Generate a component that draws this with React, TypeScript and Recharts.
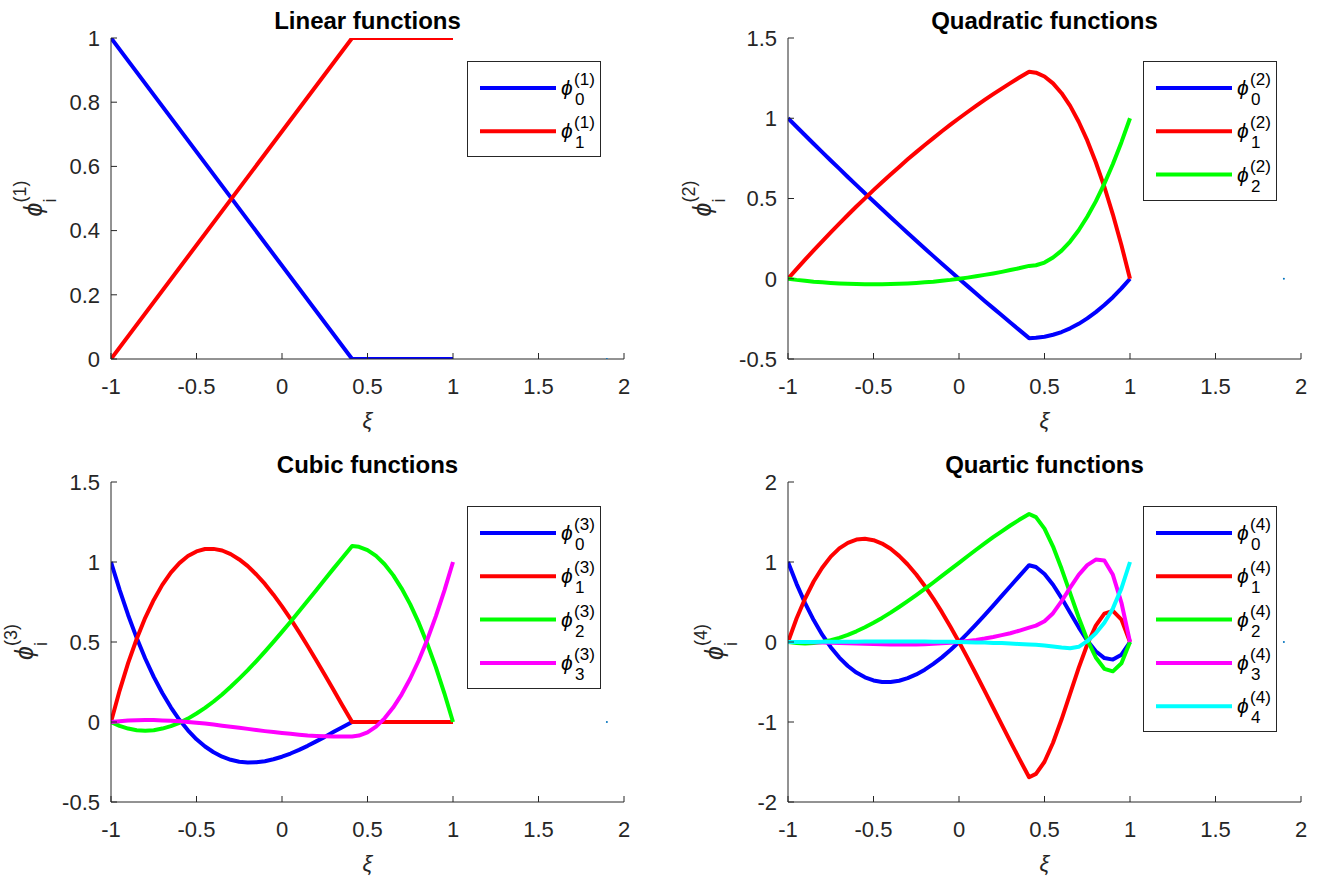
import React from 'react';
import { LineChart, Line, XAxis, YAxis, Legend } from 'recharts';

const FONT = '"Liberation Sans", Arial, Helvetica, sans-serif';
const AXIS_COLOR = '#262626';
const PANEL_W = 659;
const PANEL_H = 442;

const XI_LINEAR = [-1, 0.41, 1];
const XI = [
  -1, -0.95, -0.9, -0.85, -0.8, -0.75, -0.7, -0.65, -0.6, -0.55, -0.5, -0.45, -0.4, -0.35, -0.3, -0.25, -0.2,
  -0.15, -0.1, -0.05, 0, 0.05, 0.1, 0.15, 0.2, 0.25, 0.3, 0.35, 0.41, 0.45, 0.5, 0.55, 0.6, 0.65, 0.7, 0.75,
  0.8, 0.85, 0.9, 0.95, 1,
];

const LIN_PHI0 = [1, 0, 0];
const LIN_PHI1 = [0, 1, 1];

const QUAD_PHI0 = [
  1, 0.947, 0.894, 0.841, 0.789, 0.737, 0.686, 0.634, 0.583, 0.533, 0.483, 0.433, 0.383, 0.334, 0.285, 0.237,
  0.189, 0.141, 0.094, 0.047, 0, -0.046, -0.092, -0.138, -0.183, -0.228, -0.273, -0.317, -0.37,
  -0.368, -0.361, -0.349, -0.332, -0.309, -0.281, -0.247, -0.208, -0.164, -0.115, -0.06, 0,
];
const QUAD_PHI1 = [
  0, 0.06, 0.119, 0.177, 0.233, 0.289, 0.344, 0.397, 0.45, 0.501, 0.552, 0.601, 0.65, 0.697, 0.744, 0.789,
  0.833, 0.876, 0.919, 0.96, 1, 1.039, 1.077, 1.114, 1.15, 1.185, 1.219, 1.252, 1.29,
  1.284, 1.26, 1.217, 1.156, 1.077, 0.978, 0.862, 0.726, 0.573, 0.4, 0.209, 0,
];
const QUAD_PHI2 = [
  0, -0.007, -0.012, -0.018, -0.022, -0.026, -0.029, -0.031, -0.033, -0.034, -0.035, -0.034, -0.033, -0.031,
  -0.029, -0.026, -0.022, -0.018, -0.012, -0.007, 0, 0.007, 0.015, 0.024, 0.033, 0.043, 0.054, 0.065, 0.08,
  0.084, 0.101, 0.132, 0.175, 0.232, 0.302, 0.386, 0.482, 0.592, 0.715, 0.851, 1,
];

const CUBIC_PHI0 = [
  1, 0.827, 0.669, 0.526, 0.397, 0.282, 0.181, 0.092, 0.014, -0.052, -0.108, -0.153, -0.189, -0.217, -0.236,
  -0.248, -0.253, -0.252, -0.245, -0.233, -0.217, -0.197, -0.174, -0.149, -0.121, -0.093, -0.063, -0.034, 0,
  0, 0, 0, 0, 0, 0, 0, 0, 0, 0, 0, 0,
];
const CUBIC_PHI1 = [
  0, 0.195, 0.368, 0.519, 0.651, 0.763, 0.857, 0.934, 0.993, 1.037, 1.066, 1.081, 1.082, 1.072, 1.049, 1.016,
  0.974, 0.922, 0.863, 0.796, 0.723, 0.645, 0.562, 0.475, 0.386, 0.295, 0.203, 0.11, 0,
  0, 0, 0, 0, 0, 0, 0, 0, 0, 0, 0, 0,
];
const CUBIC_PHI2 = [
  0, -0.024, -0.041, -0.051, -0.054, -0.051, -0.041, -0.026, -0.005, 0.021, 0.053, 0.088, 0.128, 0.172, 0.22,
  0.271, 0.324, 0.381, 0.44, 0.501, 0.563, 0.627, 0.692, 0.758, 0.824, 0.891, 0.957, 1.022, 1.1,
  1.095, 1.074, 1.038, 0.986, 0.918, 0.834, 0.735, 0.619, 0.488, 0.341, 0.178, 0,
];
const CUBIC_PHI3 = [
  0, 0.005, 0.009, 0.011, 0.012, 0.012, 0.01, 0.008, 0.004, 0, -0.005, -0.01, -0.016, -0.023, -0.029, -0.036,
  -0.043, -0.05, -0.057, -0.063, -0.069, -0.074, -0.079, -0.084, -0.087, -0.089, -0.091, -0.091, -0.09,
  -0.085, -0.065, -0.029, 0.023, 0.09, 0.173, 0.272, 0.386, 0.516, 0.662, 0.823, 1,
];

const QUART_PHI0 = [
  1, 0.727, 0.486, 0.274, 0.091, -0.065, -0.195, -0.3, -0.382, -0.442, -0.481, -0.5, -0.5, -0.484, -0.452,
  -0.405, -0.346, -0.274, -0.192, -0.1, 0, 0.107, 0.219, 0.335, 0.455, 0.576, 0.697, 0.818, 0.96,
  0.937, 0.85, 0.716, 0.549, 0.366, 0.183, 0.018, -0.116, -0.201, -0.22, -0.159, 0,
];
const QUART_PHI1 = [
  0, 0.293, 0.544, 0.756, 0.929, 1.067, 1.17, 1.24, 1.28, 1.29, 1.273, 1.231, 1.165, 1.077, 0.969, 0.843, 0.7,
  0.543, 0.373, 0.191, 0, -0.199, -0.403, -0.611, -0.822, -1.033, -1.242, -1.449, -1.69,
  -1.649, -1.497, -1.26, -0.966, -0.644, -0.323, -0.031, 0.204, 0.354, 0.388, 0.28, 0,
];
const QUART_PHI2 = [
  0, -0.014, -0.019, -0.014, 0, 0.022, 0.052, 0.09, 0.134, 0.184, 0.24, 0.301, 0.367, 0.437, 0.51, 0.586, 0.664,
  0.744, 0.826, 0.908, 0.99, 1.072, 1.153, 1.232, 1.31, 1.384, 1.456, 1.524, 1.6,
  1.561, 1.417, 1.193, 0.915, 0.61, 0.306, 0.029, -0.193, -0.335, -0.367, -0.265, 0,
];
const QUART_PHI3 = [
  0, 0, -0.001, -0.002, -0.005, -0.008, -0.011, -0.015, -0.018, -0.022, -0.025, -0.028, -0.03, -0.031, -0.031,
  -0.03, -0.027, -0.023, -0.017, -0.01, 0, 0.012, 0.026, 0.043, 0.063, 0.086, 0.11, 0.14, 0.18,
  0.205, 0.26, 0.36, 0.51, 0.68, 0.84, 0.96, 1.03, 1.02, 0.84, 0.49, 0,
];
const QUART_PHI4 = [
  0, 0, 0.001, 0.001, 0.002, 0.002, 0.003, 0.003, 0.004, 0.005, 0.005, 0.005, 0.006, 0.006, 0.006, 0.005, 0.005,
  0.004, 0.003, 0.002, 0, -0.002, -0.005, -0.007, -0.011, -0.014, -0.019, -0.024, -0.03,
  -0.035, -0.043, -0.055, -0.068, -0.078, -0.06, 0.01, 0.11, 0.24, 0.42, 0.67, 1,
];

// the lone default-coloured point every subplot has at (1.9, 0)
const STRAY_X = [1.9];
const STRAY_Y = [0];

const X_TICKS = [-1, -0.5, 0, 0.5, 1, 1.5, 2];
const LIN_Y_TICKS = [0, 0.2, 0.4, 0.6, 0.8, 1];
const QUAD_Y_TICKS = [-0.5, 0, 0.5, 1, 1.5];
const CUBIC_Y_TICKS = [-0.5, 0, 0.5, 1, 1.5];
const QUART_Y_TICKS = [-2, -1, 0, 1, 2];

const COLORS = ['#0000ff', '#ff0000', '#00ff00', '#ff00ff', '#00ffff'];

const toPoints = (xs: number[], ys: number[]) => xs.map((x, i) => ({ x, y: ys[i] }));

const XiLabel = (props: any) => {
  const vb = props.viewBox || {};
  return (
    <text
      x={vb.x + vb.width / 2}
      y={vb.y + 69}
      textAnchor="middle"
      fontFamily={FONT}
      fontSize={22}
      fontStyle="italic"
      fill={AXIS_COLOR}
    >
      ξ
    </text>
  );
};

const PhiLabel = (props: any) => {
  const vb = props.viewBox || {};
  const cx = vb.x + vb.width + props.shift;
  const cy = vb.y + vb.height / 2;
  return (
    <text
      x={cx}
      y={cy}
      transform={`rotate(-90 ${cx} ${cy})`}
      textAnchor="middle"
      fontFamily={FONT}
      fill={AXIS_COLOR}
    >
      <tspan fontSize={25} fontStyle="italic">ϕ</tspan>
      <tspan fontSize={18} dy={-16}>({props.order})</tspan>
      <tspan fontSize={18} dx={-22} dy={30}>i</tspan>
    </text>
  );
};

const PhiLegend = ({ payload, order, width, height }: any) => {
  const items = (payload || []).filter((p: any) => p.type !== 'none');
  return (
    <svg width={width} height={height} style={{ display: 'block' }}>
      <rect x={0.5} y={0.5} width={width - 1} height={height - 1} fill="#ffffff" stroke={AXIS_COLOR} />
      {items.map((it: any, k: number) => {
        const cy = 27 + k * 43.3;
        return (
          <g key={it.value} fontFamily={FONT} fill="#000000">
            <line x1={13} x2={89} y1={cy} y2={cy} stroke={it.color} strokeWidth={4} />
            <text x={94} y={cy + 7} fontSize={21} fontStyle="italic">ϕ</text>
            <text x={107} y={cy - 3} fontSize={17}>({order})</text>
            <text x={108} y={cy + 17} fontSize={17}>{it.value}</text>
          </g>
        );
      })}
    </svg>
  );
};

interface PanelProps {
  originX: number;
  originY: number;
  margin: { top: number; right: number; bottom: number; left: number };
  xi: number[];
  series: number[][];
  yDomain: [number, number];
  yTicks: number[];
  title: string;
  order: number;
  legendBox: { left: number; top: number };
  yLabelShift: number;
}

const Panel = ({ originX, originY, margin, xi, series, yDomain, yTicks, title, order, legendBox, yLabelShift }: PanelProps) => {
  const legendW = 134;
  const legendH = Math.round(53 + (series.length - 1) * 43.3);
  const plotLeft = margin.left + 70;
  const plotRight = PANEL_W - margin.right;
  return (
    <div style={{ position: 'absolute', left: originX, top: originY, width: PANEL_W, height: PANEL_H }}>
      <LineChart width={PANEL_W} height={PANEL_H} margin={margin}>
        <XAxis
          type="number"
          dataKey="x"
          domain={[-1, 2]}
          ticks={X_TICKS}
          interval={0}
          allowDataOverflow
          height={50}
          tickSize={-6}
          tickMargin={25}
          tick={{ fontSize: 22, fill: AXIS_COLOR, fontFamily: FONT }}
          axisLine={{ stroke: AXIS_COLOR, strokeWidth: 1 }}
          tickLine={{ stroke: AXIS_COLOR, strokeWidth: 1 }}
          tickFormatter={(v) => String(v)}
          label={<XiLabel />}
        />
        <YAxis
          type="number"
          domain={yDomain}
          ticks={yTicks}
          interval={0}
          allowDataOverflow
          width={70}
          tickSize={-6}
          tickMargin={17}
          tick={{ fontSize: 22, fill: AXIS_COLOR, fontFamily: FONT }}
          axisLine={{ stroke: AXIS_COLOR, strokeWidth: 1 }}
          tickLine={{ stroke: AXIS_COLOR, strokeWidth: 1 }}
          tickFormatter={(v) => String(v)}
          label={<PhiLabel order={order} shift={yLabelShift} />}
        />
        <Legend
          layout="vertical"
          align="center"
          verticalAlign="middle"
          wrapperStyle={{ left: legendBox.left, top: legendBox.top, width: legendW, height: legendH }}
          content={(p: any) => <PhiLegend payload={p.payload} order={order} width={legendW} height={legendH} />}
        />
        {series.map((vals, i) => (
          <Line
            key={i}
            data={toPoints(xi, vals)}
            dataKey="y"
            name={String(i)}
            type="linear"
            stroke={COLORS[i]}
            strokeWidth={4}
            strokeLinejoin="round"
            dot={false}
            activeDot={false}
            isAnimationActive={false}
          />
        ))}
        <Line
          data={toPoints(STRAY_X, STRAY_Y)}
          dataKey="y"
          name="stray"
          legendType="none"
          stroke="none"
          dot={{ r: 1, fill: '#0072bd', stroke: 'none' }}
          activeDot={false}
          isAnimationActive={false}
        />
      </LineChart>
      <div
        style={{
          position: 'absolute',
          left: (plotLeft + plotRight) / 2 - 200,
          width: 400,
          top: margin.top - 29,
          textAlign: 'center',
          fontFamily: FONT,
          fontWeight: 'bold',
          fontSize: 24,
          lineHeight: '24px',
          color: '#000000',
        }}
      >
        {title}
      </div>
    </div>
  );
};

export default function App() {
  return (
    <div style={{ position: 'absolute', left: 0, top: 0, width: 1318, height: 884, background: '#ffffff' }}>
      <Panel
        originX={0}
        originY={0}
        margin={{ top: 38, right: 35, bottom: 33, left: 41 }}
        xi={XI_LINEAR}
        series={[LIN_PHI0, LIN_PHI1]}
        yDomain={[0, 1]}
        yTicks={LIN_Y_TICKS}
        title="Linear functions"
        order={1}
        legendBox={{ left: 467, top: 61 }}
        yLabelShift={-69}
      />
      <Panel
        originX={659}
        originY={0}
        margin={{ top: 38, right: 17, bottom: 33, left: 59 }}
        xi={XI}
        series={[QUAD_PHI0, QUAD_PHI1, QUAD_PHI2]}
        yDomain={[-0.5, 1.5]}
        yTicks={QUAD_Y_TICKS}
        title="Quadratic functions"
        order={2}
        legendBox={{ left: 484, top: 61 }}
        yLabelShift={-77}
      />
      <Panel
        originX={0}
        originY={442}
        margin={{ top: 40, right: 35, bottom: 32, left: 41 }}
        xi={XI}
        series={[CUBIC_PHI0, CUBIC_PHI1, CUBIC_PHI2, CUBIC_PHI3]}
        yDomain={[-0.5, 1.5]}
        yTicks={CUBIC_Y_TICKS}
        title="Cubic functions"
        order={3}
        legendBox={{ left: 467, top: 64 }}
        yLabelShift={-78}
      />
      <Panel
        originX={659}
        originY={442}
        margin={{ top: 40, right: 17, bottom: 32, left: 59 }}
        xi={XI}
        series={[QUART_PHI0, QUART_PHI1, QUART_PHI2, QUART_PHI3, QUART_PHI4]}
        yDomain={[-2, 2]}
        yTicks={QUART_Y_TICKS}
        title="Quartic functions"
        order={4}
        legendBox={{ left: 484, top: 64 }}
        yLabelShift={-65}
      />
    </div>
  );
}
